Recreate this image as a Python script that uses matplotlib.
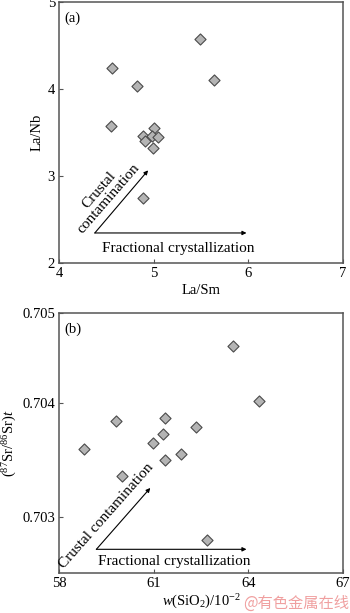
import matplotlib
matplotlib.use("Agg")
import matplotlib.pyplot as plt

plt.rcParams['font.family'] = ['Liberation Serif', 'DejaVu Serif']
plt.rcParams['mathtext.fontset'] = 'custom'
plt.rcParams['mathtext.rm'] = 'Liberation Serif'
plt.rcParams['mathtext.it'] = 'Liberation Serif:italic'

# panel (a): La/Sm vs La/Nb
la_sm = [5.49, 4.56, 5.64, 4.82, 4.55, 5.00, 4.89, 4.98, 5.04, 4.91, 4.99, 4.89]
la_nb = [4.58, 4.24, 4.10, 4.03, 3.58, 3.55, 3.46, 3.46, 3.45, 3.40, 3.32, 2.75]

# panel (b): SiO2 vs initial Sr isotope ratio
sio2 = [63.51, 64.35, 59.79, 61.35, 62.35, 61.30, 60.97, 58.80, 61.85, 61.37, 59.99, 62.68]
sr_i = [0.70450, 0.70402, 0.703844, 0.703868, 0.703794, 0.703729,
        0.703647, 0.70360, 0.703553, 0.703497, 0.703362, 0.70280]

a_xticks = [4, 5, 6, 7]
a_yticks = [2, 3, 4, 5]
b_xticks = [58, 61, 64, 67]
b_yticks = [0.703, 0.704, 0.70479]
b_yticklabels = ['0.703', '0.704', '0.705']

fig = plt.figure(figsize=(3.5, 6.13), dpi=100)
ax1 = fig.add_axes([0.169, 0.571, 0.811, 0.4257])
ax2 = fig.add_axes([0.169, 0.0652, 0.811, 0.4242])

fs = 10.5
fs_note = 11
edge = '#555555'
mk = dict(marker='D', s=32, facecolor='#b4b4b4', edgecolor='#4a4a4a', linewidth=0.8, zorder=3)


def style(ax):
    for sp in ax.spines.values():
        sp.set_color(edge)
        sp.set_linewidth(1.1)
    ax.tick_params(direction='in', length=3, width=0.8, color=edge, labelsize=fs, pad=3)


# --- (a)
ax1.scatter(la_sm, la_nb, **mk)
ax1.set_xlim(4, 7)
ax1.set_ylim(2, 5)
ax1.set_xticks(a_xticks)
ax1.set_yticks(a_yticks)
style(ax1)
ax1.set_xlabel('La/Sm', fontsize=fs, labelpad=3)
ax1.set_ylabel('La/Nb', fontsize=fs, labelpad=3)
ax1.text(0.02, 0.965, '(a)', transform=ax1.transAxes, fontsize=fs, va='top', ha='left')
arr = dict(arrowstyle='-|>', color='black', lw=0.8, mutation_scale=6, shrinkA=0, shrinkB=0)
ax1.annotate('', xy=(4.94, 3.065), xytext=(4.377, 2.345), arrowprops=arr)
ax1.annotate('', xy=(5.98, 2.345), xytext=(4.377, 2.345), arrowprops=arr)
ax1.text(5.257, 2.17, 'Fractional crystallization', fontsize=fs_note, ha='center', va='center')
ax1.text(4.47, 2.79, 'Crustal\ncontamination', fontsize=fs_note, ha='center', va='center',
         rotation=49, linespacing=0.95, rotation_mode='anchor')

# --- (b)
ax2.scatter(sio2, sr_i, **mk)
ax2.set_xlim(58, 67)
ax2.set_ylim(0.70251, 0.70479)
ax2.set_xticks(b_xticks)
ax2.set_yticks(b_yticks)
ax2.set_yticklabels(b_yticklabels)
style(ax2)
ax2.set_xlabel(r'$\mathit{w}$(SiO$_2$)/10$^{-2}$', fontsize=fs, labelpad=2)
ax2.set_ylabel(r'($^{87}$Sr/$^{86}$Sr)$\mathit{t}$', fontsize=fs, labelpad=2)
ax2.text(0.02, 0.965, '(b)', transform=ax2.transAxes, fontsize=fs, va='top', ha='left')
ax2.annotate('', xy=(60.89, 0.703256), xytext=(59.18, 0.702718), arrowprops=arr)
ax2.annotate('', xy=(63.94, 0.702718), xytext=(59.18, 0.702718), arrowprops=arr)
ax2.text(61.65, 0.702609, 'Fractional crystallization', fontsize=fs_note, ha='center', va='center')
ax2.text(59.50, 0.703015, 'Crustal contamination', fontsize=fs_note, ha='center', va='center',
         rotation=48.5, rotation_mode='anchor')

fig.text(0.998, 0.002, '@有色金属在线', fontsize=11, color='#f0a0a0', ha='right', va='bottom',
         family=['Noto Sans CJK SC', 'DejaVu Sans'])

fig.savefig('out.png', dpi=100)
